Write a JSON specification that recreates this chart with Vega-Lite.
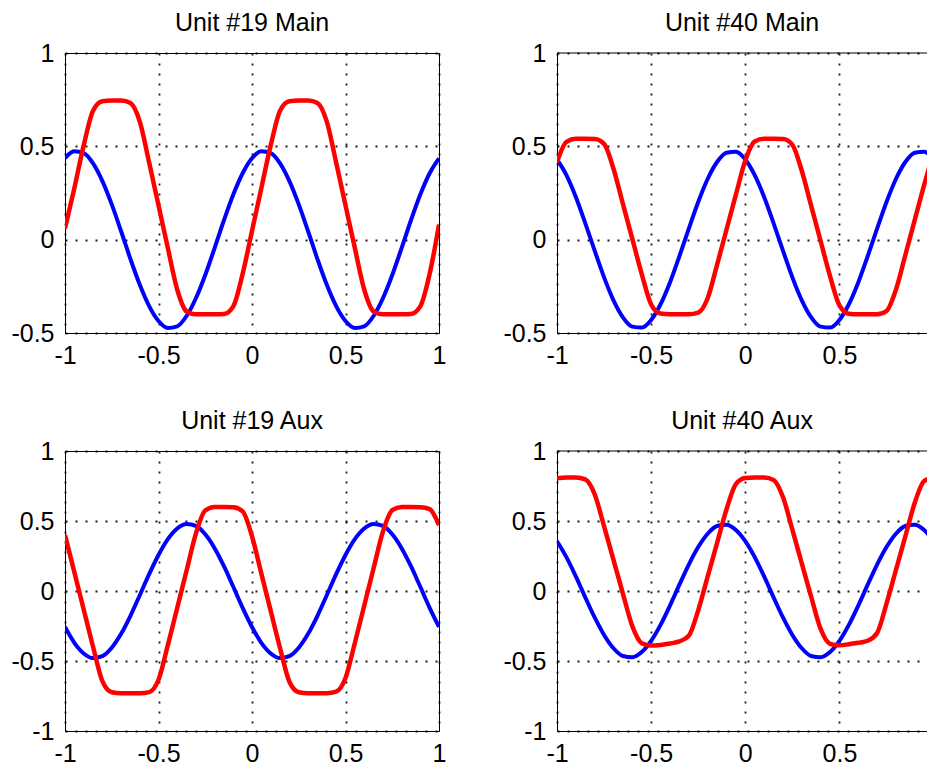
{
  "$schema": "https://vega.github.io/schema/vega-lite/v6.json",
  "background": "white",
  "padding": {"left": 10, "top": 10, "right": 0, "bottom": 0},
  "config": {
    "font": "Liberation Sans",
    "view": {"stroke": "#000000", "strokeWidth": 1},
    "title": {"font": "Liberation Sans", "fontSize": 25, "fontWeight": "normal", "color": "#000000", "anchor": "middle", "frame": "group", "baseline": "alphabetic", "offset": 5},
    "axis": {"labelFont": "Liberation Sans", "labelFontSize": 25, "labelColor": "#000000", "domainColor": "#000000", "domainWidth": 1, "ticks": false, "grid": true, "gridColor": "#000000", "gridDash": [2, 8], "gridWidth": 1.8, "gridOpacity": 0.9, "labelPadding": 10, "labelFlush": false, "labelOverlap": false, "labelBound": false, "labelExpr": "(datum.value < 0 ? '-' : '') + abs(datum.value)"},
    "axisY": {"labelPadding": 11}
  },
  "datasets": {
    "unit19main": [
      {"series":"blue","x":-1,"y":0.436},{"series":"blue","x":-0.95,"y":0.473},{"series":"blue","x":-0.9,"y":0.464},{"series":"blue","x":-0.85,"y":0.409},{"series":"blue","x":-0.8,"y":0.314},{"series":"blue","x":-0.75,"y":0.189},{"series":"blue","x":-0.7,"y":0.045},{"series":"blue","x":-0.65,"y":-0.104},{"series":"blue","x":-0.6,"y":-0.242},{"series":"blue","x":-0.55,"y":-0.356},{"series":"blue","x":-0.5,"y":-0.436},{"series":"blue","x":-0.45,"y":-0.473},{"series":"blue","x":-0.4,"y":-0.464},{"series":"blue","x":-0.35,"y":-0.409},{"series":"blue","x":-0.3,"y":-0.314},{"series":"blue","x":-0.25,"y":-0.189},{"series":"blue","x":-0.2,"y":-0.045},{"series":"blue","x":-0.15,"y":0.104},{"series":"blue","x":-0.1,"y":0.242},{"series":"blue","x":-0.05,"y":0.356},{"series":"blue","x":0,"y":0.436},{"series":"blue","x":0.05,"y":0.473},{"series":"blue","x":0.1,"y":0.464},{"series":"blue","x":0.15,"y":0.409},{"series":"blue","x":0.2,"y":0.314},{"series":"blue","x":0.25,"y":0.189},{"series":"blue","x":0.3,"y":0.045},{"series":"blue","x":0.35,"y":-0.104},{"series":"blue","x":0.4,"y":-0.242},{"series":"blue","x":0.45,"y":-0.356},{"series":"blue","x":0.5,"y":-0.436},{"series":"blue","x":0.55,"y":-0.473},{"series":"blue","x":0.6,"y":-0.464},{"series":"blue","x":0.65,"y":-0.409},{"series":"blue","x":0.7,"y":-0.314},{"series":"blue","x":0.75,"y":-0.189},{"series":"blue","x":0.8,"y":-0.045},{"series":"blue","x":0.85,"y":0.104},{"series":"blue","x":0.9,"y":0.242},{"series":"blue","x":0.95,"y":0.356},{"series":"blue","x":1,"y":0.436},
      {"series":"red","x":-1,"y":0.06},{"series":"red","x":-0.95,"y":0.276},{"series":"red","x":-0.9,"y":0.505},{"series":"red","x":-0.85,"y":0.691},{"series":"red","x":-0.8,"y":0.742},{"series":"red","x":-0.75,"y":0.745},{"series":"red","x":-0.7,"y":0.745},{"series":"red","x":-0.65,"y":0.732},{"series":"red","x":-0.6,"y":0.632},{"series":"red","x":-0.55,"y":0.413},{"series":"red","x":-0.5,"y":0.184},{"series":"red","x":-0.45,"y":-0.045},{"series":"red","x":-0.4,"y":-0.267},{"series":"red","x":-0.35,"y":-0.384},{"series":"red","x":-0.3,"y":-0.4},{"series":"red","x":-0.25,"y":-0.4},{"series":"red","x":-0.2,"y":-0.4},{"series":"red","x":-0.15,"y":-0.398},{"series":"red","x":-0.1,"y":-0.357},{"series":"red","x":-0.05,"y":-0.183},{"series":"red","x":0,"y":0.047},{"series":"red","x":0.05,"y":0.276},{"series":"red","x":0.1,"y":0.505},{"series":"red","x":0.15,"y":0.691},{"series":"red","x":0.2,"y":0.742},{"series":"red","x":0.25,"y":0.745},{"series":"red","x":0.3,"y":0.745},{"series":"red","x":0.35,"y":0.732},{"series":"red","x":0.4,"y":0.632},{"series":"red","x":0.45,"y":0.413},{"series":"red","x":0.5,"y":0.184},{"series":"red","x":0.55,"y":-0.045},{"series":"red","x":0.6,"y":-0.267},{"series":"red","x":0.65,"y":-0.384},{"series":"red","x":0.7,"y":-0.4},{"series":"red","x":0.75,"y":-0.4},{"series":"red","x":0.8,"y":-0.4},{"series":"red","x":0.85,"y":-0.398},{"series":"red","x":0.9,"y":-0.357},{"series":"red","x":0.95,"y":-0.183},{"series":"red","x":1,"y":0.08}
    ],
    "unit40main": [
      {"series":"blue","x":-1,"y":0.43},{"series":"blue","x":-0.95,"y":0.346},{"series":"blue","x":-0.9,"y":0.229},{"series":"blue","x":-0.85,"y":0.089},{"series":"blue","x":-0.8,"y":-0.059},{"series":"blue","x":-0.75,"y":-0.202},{"series":"blue","x":-0.7,"y":-0.325},{"series":"blue","x":-0.65,"y":-0.416},{"series":"blue","x":-0.6,"y":-0.466},{"series":"blue","x":-0.55,"y":-0.471},{"series":"blue","x":-0.5,"y":-0.43},{"series":"blue","x":-0.45,"y":-0.346},{"series":"blue","x":-0.4,"y":-0.229},{"series":"blue","x":-0.35,"y":-0.089},{"series":"blue","x":-0.3,"y":0.059},{"series":"blue","x":-0.25,"y":0.202},{"series":"blue","x":-0.2,"y":0.325},{"series":"blue","x":-0.15,"y":0.416},{"series":"blue","x":-0.1,"y":0.466},{"series":"blue","x":-0.05,"y":0.471},{"series":"blue","x":0,"y":0.43},{"series":"blue","x":0.05,"y":0.346},{"series":"blue","x":0.1,"y":0.229},{"series":"blue","x":0.15,"y":0.089},{"series":"blue","x":0.2,"y":-0.059},{"series":"blue","x":0.25,"y":-0.202},{"series":"blue","x":0.3,"y":-0.325},{"series":"blue","x":0.35,"y":-0.416},{"series":"blue","x":0.4,"y":-0.466},{"series":"blue","x":0.45,"y":-0.471},{"series":"blue","x":0.5,"y":-0.43},{"series":"blue","x":0.55,"y":-0.346},{"series":"blue","x":0.6,"y":-0.229},{"series":"blue","x":0.65,"y":-0.089},{"series":"blue","x":0.7,"y":0.059},{"series":"blue","x":0.75,"y":0.202},{"series":"blue","x":0.8,"y":0.325},{"series":"blue","x":0.85,"y":0.416},{"series":"blue","x":0.9,"y":0.466},{"series":"blue","x":0.95,"y":0.471},{"series":"blue","x":1,"y":0.43},
      {"series":"red","x":-1,"y":0.415},{"series":"red","x":-0.95,"y":0.524},{"series":"red","x":-0.9,"y":0.54},{"series":"red","x":-0.85,"y":0.54},{"series":"red","x":-0.8,"y":0.539},{"series":"red","x":-0.75,"y":0.513},{"series":"red","x":-0.7,"y":0.38},{"series":"red","x":-0.65,"y":0.192},{"series":"red","x":-0.6,"y":0.004},{"series":"red","x":-0.55,"y":-0.184},{"series":"red","x":-0.5,"y":-0.347},{"series":"red","x":-0.45,"y":-0.396},{"series":"red","x":-0.4,"y":-0.4},{"series":"red","x":-0.35,"y":-0.4},{"series":"red","x":-0.3,"y":-0.4},{"series":"red","x":-0.25,"y":-0.391},{"series":"red","x":-0.2,"y":-0.314},{"series":"red","x":-0.15,"y":-0.135},{"series":"red","x":-0.1,"y":0.053},{"series":"red","x":-0.05,"y":0.241},{"series":"red","x":0,"y":0.424},{"series":"red","x":0.05,"y":0.526},{"series":"red","x":0.1,"y":0.54},{"series":"red","x":0.15,"y":0.54},{"series":"red","x":0.2,"y":0.539},{"series":"red","x":0.25,"y":0.508},{"series":"red","x":0.3,"y":0.369},{"series":"red","x":0.35,"y":0.181},{"series":"red","x":0.4,"y":-0.007},{"series":"red","x":0.45,"y":-0.195},{"series":"red","x":0.5,"y":-0.352},{"series":"red","x":0.55,"y":-0.397},{"series":"red","x":0.6,"y":-0.4},{"series":"red","x":0.65,"y":-0.4},{"series":"red","x":0.7,"y":-0.4},{"series":"red","x":0.75,"y":-0.382},{"series":"red","x":0.8,"y":-0.268},{"series":"red","x":0.85,"y":-0.082},{"series":"red","x":0.9,"y":0.106},{"series":"red","x":0.95,"y":0.294},{"series":"red","x":1,"y":0.47}
    ],
    "unit19aux": [
      {"series":"blue","x":-1,"y":-0.257},{"series":"blue","x":-0.95,"y":-0.37},{"series":"blue","x":-0.9,"y":-0.446},{"series":"blue","x":-0.85,"y":-0.479},{"series":"blue","x":-0.8,"y":-0.465},{"series":"blue","x":-0.75,"y":-0.405},{"series":"blue","x":-0.7,"y":-0.306},{"series":"blue","x":-0.65,"y":-0.177},{"series":"blue","x":-0.6,"y":-0.03},{"series":"blue","x":-0.55,"y":0.12},{"series":"blue","x":-0.5,"y":0.257},{"series":"blue","x":-0.45,"y":0.37},{"series":"blue","x":-0.4,"y":0.446},{"series":"blue","x":-0.35,"y":0.479},{"series":"blue","x":-0.3,"y":0.465},{"series":"blue","x":-0.25,"y":0.405},{"series":"blue","x":-0.2,"y":0.306},{"series":"blue","x":-0.15,"y":0.177},{"series":"blue","x":-0.1,"y":0.03},{"series":"blue","x":-0.05,"y":-0.12},{"series":"blue","x":0,"y":-0.257},{"series":"blue","x":0.05,"y":-0.37},{"series":"blue","x":0.1,"y":-0.446},{"series":"blue","x":0.15,"y":-0.479},{"series":"blue","x":0.2,"y":-0.465},{"series":"blue","x":0.25,"y":-0.405},{"series":"blue","x":0.3,"y":-0.306},{"series":"blue","x":0.35,"y":-0.177},{"series":"blue","x":0.4,"y":-0.03},{"series":"blue","x":0.45,"y":0.12},{"series":"blue","x":0.5,"y":0.257},{"series":"blue","x":0.55,"y":0.37},{"series":"blue","x":0.6,"y":0.446},{"series":"blue","x":0.65,"y":0.479},{"series":"blue","x":0.7,"y":0.465},{"series":"blue","x":0.75,"y":0.405},{"series":"blue","x":0.8,"y":0.306},{"series":"blue","x":0.85,"y":0.177},{"series":"blue","x":0.9,"y":0.03},{"series":"blue","x":0.95,"y":-0.12},{"series":"blue","x":1,"y":-0.257},
      {"series":"red","x":-1,"y":0.4},{"series":"red","x":-0.95,"y":0.135},{"series":"red","x":-0.9,"y":-0.132},{"series":"red","x":-0.85,"y":-0.398},{"series":"red","x":-0.8,"y":-0.644},{"series":"red","x":-0.75,"y":-0.723},{"series":"red","x":-0.7,"y":-0.73},{"series":"red","x":-0.65,"y":-0.73},{"series":"red","x":-0.6,"y":-0.73},{"series":"red","x":-0.55,"y":-0.722},{"series":"red","x":-0.5,"y":-0.634},{"series":"red","x":-0.45,"y":-0.387},{"series":"red","x":-0.4,"y":-0.121},{"series":"red","x":-0.35,"y":0.145},{"series":"red","x":-0.3,"y":0.41},{"series":"red","x":-0.25,"y":0.575},{"series":"red","x":-0.2,"y":0.6},{"series":"red","x":-0.15,"y":0.6},{"series":"red","x":-0.1,"y":0.599},{"series":"red","x":-0.05,"y":0.569},{"series":"red","x":0,"y":0.391},{"series":"red","x":0.05,"y":0.124},{"series":"red","x":0.1,"y":-0.142},{"series":"red","x":0.15,"y":-0.408},{"series":"red","x":0.2,"y":-0.648},{"series":"red","x":0.25,"y":-0.723},{"series":"red","x":0.3,"y":-0.73},{"series":"red","x":0.35,"y":-0.73},{"series":"red","x":0.4,"y":-0.73},{"series":"red","x":0.45,"y":-0.719},{"series":"red","x":0.5,"y":-0.621},{"series":"red","x":0.55,"y":-0.371},{"series":"red","x":0.6,"y":-0.105},{"series":"red","x":0.65,"y":0.161},{"series":"red","x":0.7,"y":0.423},{"series":"red","x":0.75,"y":0.577},{"series":"red","x":0.8,"y":0.6},{"series":"red","x":0.85,"y":0.6},{"series":"red","x":0.9,"y":0.599},{"series":"red","x":0.95,"y":0.585},{"series":"red","x":1,"y":0.47}
    ],
    "unit40aux": [
      {"series":"blue","x":-1,"y":0.356},{"series":"blue","x":-0.95,"y":0.242},{"series":"blue","x":-0.9,"y":0.104},{"series":"blue","x":-0.85,"y":-0.045},{"series":"blue","x":-0.8,"y":-0.189},{"series":"blue","x":-0.75,"y":-0.314},{"series":"blue","x":-0.7,"y":-0.409},{"series":"blue","x":-0.65,"y":-0.464},{"series":"blue","x":-0.6,"y":-0.473},{"series":"blue","x":-0.55,"y":-0.436},{"series":"blue","x":-0.5,"y":-0.356},{"series":"blue","x":-0.45,"y":-0.242},{"series":"blue","x":-0.4,"y":-0.104},{"series":"blue","x":-0.35,"y":0.045},{"series":"blue","x":-0.3,"y":0.189},{"series":"blue","x":-0.25,"y":0.314},{"series":"blue","x":-0.2,"y":0.409},{"series":"blue","x":-0.15,"y":0.464},{"series":"blue","x":-0.1,"y":0.473},{"series":"blue","x":-0.05,"y":0.436},{"series":"blue","x":0,"y":0.356},{"series":"blue","x":0.05,"y":0.242},{"series":"blue","x":0.1,"y":0.104},{"series":"blue","x":0.15,"y":-0.045},{"series":"blue","x":0.2,"y":-0.189},{"series":"blue","x":0.25,"y":-0.314},{"series":"blue","x":0.3,"y":-0.409},{"series":"blue","x":0.35,"y":-0.464},{"series":"blue","x":0.4,"y":-0.473},{"series":"blue","x":0.45,"y":-0.436},{"series":"blue","x":0.5,"y":-0.356},{"series":"blue","x":0.55,"y":-0.242},{"series":"blue","x":0.6,"y":-0.104},{"series":"blue","x":0.65,"y":0.045},{"series":"blue","x":0.7,"y":0.189},{"series":"blue","x":0.75,"y":0.314},{"series":"blue","x":0.8,"y":0.409},{"series":"blue","x":0.85,"y":0.464},{"series":"blue","x":0.9,"y":0.473},{"series":"blue","x":0.95,"y":0.436},{"series":"blue","x":1,"y":0.356},
      {"series":"red","x":-1,"y":0.806},{"series":"red","x":-0.95,"y":0.81},{"series":"red","x":-0.9,"y":0.81},{"series":"red","x":-0.85,"y":0.797},{"series":"red","x":-0.8,"y":0.691},{"series":"red","x":-0.75,"y":0.462},{"series":"red","x":-0.7,"y":0.222},{"series":"red","x":-0.65,"y":-0.018},{"series":"red","x":-0.6,"y":-0.251},{"series":"red","x":-0.55,"y":-0.373},{"series":"red","x":-0.5,"y":-0.39},{"series":"red","x":-0.45,"y":-0.385},{"series":"red","x":-0.4,"y":-0.375},{"series":"red","x":-0.35,"y":-0.36},{"series":"red","x":-0.3,"y":-0.32},{"series":"red","x":-0.25,"y":-0.138},{"series":"red","x":-0.2,"y":0.102},{"series":"red","x":-0.15,"y":0.342},{"series":"red","x":-0.1,"y":0.582},{"series":"red","x":-0.05,"y":0.764},{"series":"red","x":0,"y":0.808},{"series":"red","x":0.05,"y":0.81},{"series":"red","x":0.1,"y":0.81},{"series":"red","x":0.15,"y":0.793},{"series":"red","x":0.2,"y":0.671},{"series":"red","x":0.25,"y":0.438},{"series":"red","x":0.3,"y":0.198},{"series":"red","x":0.35,"y":-0.042},{"series":"red","x":0.4,"y":-0.271},{"series":"red","x":0.45,"y":-0.377},{"series":"red","x":0.5,"y":-0.388},{"series":"red","x":0.55,"y":-0.38},{"series":"red","x":0.6,"y":-0.37},{"series":"red","x":0.65,"y":-0.355},{"series":"red","x":0.7,"y":-0.3},{"series":"red","x":0.75,"y":-0.09},{"series":"red","x":0.8,"y":0.15},{"series":"red","x":0.85,"y":0.39},{"series":"red","x":0.9,"y":0.63},{"series":"red","x":0.95,"y":0.786},{"series":"red","x":1,"y":0.81}
    ]
  },
  "columns": 2,
  "spacing": {"row": 118, "column": 118},
  "bounds": "flush",
  "concat": [
    {
      "title": {"text": "Unit #19 Main"},
      "width": 374, "height": 280,
      "data": {"name": "unit19main"},
      "layer": [
        {"transform": [{"filter": "datum.series == 'blue'"}],
         "mark": {"type": "line", "color": "#0000ff", "strokeWidth": 4, "interpolate": "monotone", "clip": true},
         "encoding": {
           "x": {"field": "x", "type": "quantitative", "title": null, "scale": {"domain": [-1, 1], "nice": false, "zero": false}, "axis": {"values": [-1, -0.5, 0, 0.5, 1]}},
           "y": {"field": "y", "type": "quantitative", "title": null, "scale": {"domain": [-0.5, 1], "nice": false, "zero": false}, "axis": {"values": [-0.5, 0, 0.5, 1]}}}},
        {"transform": [{"filter": "datum.series == 'red'"}],
         "mark": {"type": "line", "color": "#ff0000", "strokeWidth": 4.5, "interpolate": "monotone", "clip": true},
         "encoding": {
           "x": {"field": "x", "type": "quantitative", "title": null},
           "y": {"field": "y", "type": "quantitative", "title": null}}}
      ]
    },
    {
      "title": {"text": "Unit #40 Main"},
      "width": 370, "height": 280,
      "view": {"stroke": null},
      "data": {"name": "unit40main"},
      "layer": [
        {"transform": [{"filter": "datum.series == 'blue'"}],
         "mark": {"type": "line", "color": "#0000ff", "strokeWidth": 4, "interpolate": "monotone", "clip": true},
         "encoding": {
           "x": {"field": "x", "type": "quantitative", "title": null, "scale": {"domain": [-1, 0.965], "nice": false, "zero": false}, "axis": {"values": [-1, -0.5, 0, 0.5]}},
           "y": {"field": "y", "type": "quantitative", "title": null, "scale": {"domain": [-0.5, 1], "nice": false, "zero": false}, "axis": {"values": [-0.5, 0, 0.5, 1]}}}},
        {"transform": [{"filter": "datum.series == 'red'"}],
         "mark": {"type": "line", "color": "#ff0000", "strokeWidth": 4.5, "interpolate": "monotone", "clip": true},
         "encoding": {
           "x": {"field": "x", "type": "quantitative", "title": null},
           "y": {"field": "y", "type": "quantitative", "title": null}}},
        {"data": {"values": [{}]},
         "mark": {"type": "rule", "color": "#000000", "strokeWidth": 1},
         "encoding": {"y": {"datum": 1}}}
      ]
    },
    {
      "title": {"text": "Unit #19 Aux"},
      "width": 374, "height": 280,
      "data": {"name": "unit19aux"},
      "layer": [
        {"transform": [{"filter": "datum.series == 'blue'"}],
         "mark": {"type": "line", "color": "#0000ff", "strokeWidth": 4, "interpolate": "monotone", "clip": true},
         "encoding": {
           "x": {"field": "x", "type": "quantitative", "title": null, "scale": {"domain": [-1, 1], "nice": false, "zero": false}, "axis": {"values": [-1, -0.5, 0, 0.5, 1]}},
           "y": {"field": "y", "type": "quantitative", "title": null, "scale": {"domain": [-1, 1], "nice": false, "zero": false}, "axis": {"values": [-1, -0.5, 0, 0.5, 1]}}}},
        {"transform": [{"filter": "datum.series == 'red'"}],
         "mark": {"type": "line", "color": "#ff0000", "strokeWidth": 4.5, "interpolate": "monotone", "clip": true},
         "encoding": {
           "x": {"field": "x", "type": "quantitative", "title": null},
           "y": {"field": "y", "type": "quantitative", "title": null}}}
      ]
    },
    {
      "title": {"text": "Unit #40 Aux"},
      "width": 370, "height": 280,
      "view": {"stroke": null},
      "data": {"name": "unit40aux"},
      "layer": [
        {"transform": [{"filter": "datum.series == 'blue'"}],
         "mark": {"type": "line", "color": "#0000ff", "strokeWidth": 4, "interpolate": "monotone", "clip": true},
         "encoding": {
           "x": {"field": "x", "type": "quantitative", "title": null, "scale": {"domain": [-1, 0.965], "nice": false, "zero": false}, "axis": {"values": [-1, -0.5, 0, 0.5]}},
           "y": {"field": "y", "type": "quantitative", "title": null, "scale": {"domain": [-1, 1], "nice": false, "zero": false}, "axis": {"values": [-1, -0.5, 0, 0.5, 1]}}}},
        {"transform": [{"filter": "datum.series == 'red'"}],
         "mark": {"type": "line", "color": "#ff0000", "strokeWidth": 4.5, "interpolate": "monotone", "clip": true},
         "encoding": {
           "x": {"field": "x", "type": "quantitative", "title": null},
           "y": {"field": "y", "type": "quantitative", "title": null}}},
        {"data": {"values": [{}]},
         "mark": {"type": "rule", "color": "#000000", "strokeWidth": 1},
         "encoding": {"y": {"datum": 1}}}
      ]
    }
  ]
}
